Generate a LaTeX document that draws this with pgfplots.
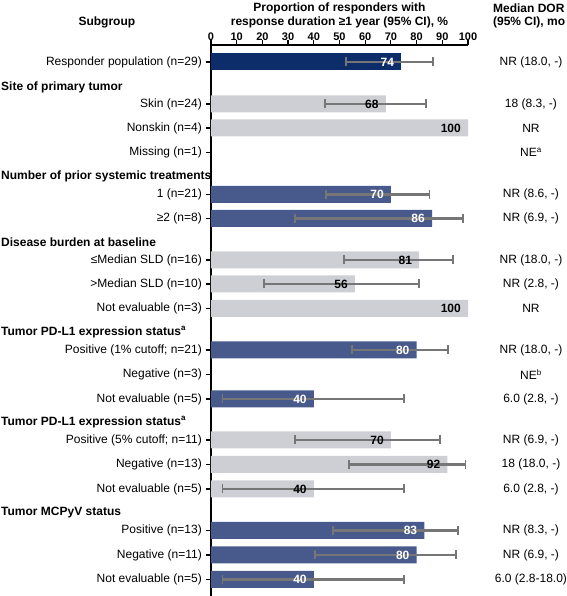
\documentclass[border=0pt]{standalone}
\usepackage{fontspec}
\setmainfont{Liberation Sans}
\usepackage{pgfplots}
\pgfplotsset{compat=1.18}
\usepackage{pgfplotstable}
\definecolor{navy}{RGB}{12,45,106}
\definecolor{slate}{RGB}{72,90,140}
\definecolor{lgrey}{RGB}{206,207,213}
\definecolor{ebgray}{RGB}{118,118,118}

\pgfplotstableread{
y v em ep
-62 74 21.5 12.5
}\navytab
\pgfplotstableread{
y v em ep
-194.5 70 25.4 15
-218.5 86 53.3 12
-350 80 25.1 12.3
-399 40 35.5 35
-530.5 83 35.4 13.2
-555 80 39.4 15.2
-579.5 40 35.5 35
}\bluetab
\pgfplotstableread{
y v em ep
-104 68 23.5 15.8
-260 81 29.2 13.2
-284 56 35.4 25
-440 70 37.3 19
-464.5 92 38.2 7
-489 40 35.5 35
}\greytab
\pgfplotstableread{
y v
-128 100
-308.5 100
}\greynoci

\pgfplotsset{
  myerr/.style={
    error bars/.cd, x dir=both, x explicit,
    error bar style={draw=ebgray, line width=2.1pt, solid},
    error mark=|,
    error mark options={draw=ebgray, line width=1.8pt, mark size=4.5pt, solid},
  },
  mylab/.style={nodes near coords, point meta=x,
    every node near coord/.append style={font=\bfseries\fontsize{12}{14}\selectfont, text=#1, anchor=east, xshift=-3pt}},
}

\begin{document}
\fontsize{12}{14}\selectfont
\begin{tikzpicture}
\begin{axis}[
 x=2.57pt, y=1pt,
 xmin=0, xmax=100, ymin=-596, ymax=-45,
 axis x line*=top, axis y line*=left,
 axis line style={line width=1.5pt},
 xtick={0,10,...,100},
 xticklabel style={font=\bfseries\fontsize{11}{13}\selectfont, yshift=-5pt},
 ytick={-62,-104,-128,-152.5,-194.5,-218.5,-260,-284,-308.5,-350,-374.5,-399,-440,-464.5,-489,-530.5,-555,-579.5},
 yticklabels={{Responder population (n=29)},{Skin (n=24)},{Nonskin (n=4)},{Missing (n=1)},{1 (n=21)},{≥2 (n=8)},{≤Median SLD (n=16)},{>Median SLD (n=10)},{Not evaluable (n=3)},{Positive (1\% cutoff; n=21)},{Negative (n=3)},{Not evaluable (n=5)},{Positive (5\% cutoff; n=11)},{Negative (n=13)},{Not evaluable (n=5)},{Positive (n=13)},{Negative (n=11)},{Not evaluable (n=5)}},
 yticklabel style={font=\fontsize{12}{14}\selectfont},
 tick style={line width=1.2pt, black},
 major tick length=5pt,
 tick align=outside,
 /pgf/number format/assume math mode=true,
 xbar, bar width=17, bar shift=0pt,
 clip=false,
 scaled x ticks=false,
]
\addplot[fill=lgrey, draw=none, mylab=black, myerr]
  table[x=v, y=y, x error minus=em, x error plus=ep]{\greytab};
\addplot[fill=lgrey, draw=none, mylab=black]
  table[x=v, y=y]{\greynoci};
\addplot[fill=slate, draw=none, mylab=white, myerr]
  table[x=v, y=y, x error minus=em, x error plus=ep]{\bluetab};
\addplot[fill=navy, draw=none, mylab=white, myerr]
  table[x=v, y=y, x error minus=em, x error plus=ep]{\navytab};

% headers
\node[font=\bfseries, inner sep=0] at (axis cs:50,-8) {Proportion of responders with};
\node[font=\bfseries, inner sep=0] at (axis cs:50,-22) {response duration ≥1 year (95\% CI), \%};
\node[font=\bfseries, inner sep=0] at (axis cs:-40.5,-22) {Subgroup};
\node[font=\bfseries, inner sep=0, anchor=west] at (axis cs:109.7,-8) {Median DOR};
\node[font=\bfseries, inner sep=0, anchor=west] at (axis cs:109.7,-22) {(95\% CI), mo};

\node[font=\bfseries, inner sep=0, anchor=west] at (axis cs:-81.7,-87) {Site of primary tumor};
\node[font=\bfseries, inner sep=0, anchor=west] at (axis cs:-81.7,-176.5) {Number of prior systemic treatments};
\node[font=\bfseries, inner sep=0, anchor=west] at (axis cs:-81.7,-242) {Disease burden at baseline};
\node[font=\bfseries, inner sep=0, anchor=west] at (axis cs:-81.7,-332) {Tumor PD-L1 expression status\textsuperscript{a}};
\node[font=\bfseries, inner sep=0, anchor=west] at (axis cs:-81.7,-422) {Tumor PD-L1 expression status\textsuperscript{a}};
\node[font=\bfseries, inner sep=0, anchor=west] at (axis cs:-81.7,-513) {Tumor MCPyV status};

% right column
\node[inner sep=0] at (axis cs:124.5,-62) {NR (18.0, -)};
\node[inner sep=0] at (axis cs:124.5,-104) {18 (8.3, -)};
\node[inner sep=0] at (axis cs:124.5,-128) {NR};
\node[inner sep=0] at (axis cs:124.5,-152.5) {NE\textsuperscript{a}};
\node[inner sep=0] at (axis cs:124.5,-194.5) {NR (8.6, -)};
\node[inner sep=0] at (axis cs:124.5,-218.5) {NR (6.9, -)};
\node[inner sep=0] at (axis cs:124.5,-260) {NR (18.0, -)};
\node[inner sep=0] at (axis cs:124.5,-284) {NR (2.8, -)};
\node[inner sep=0] at (axis cs:124.5,-308.5) {NR};
\node[inner sep=0] at (axis cs:124.5,-350) {NR (18.0, -)};
\node[inner sep=0] at (axis cs:124.5,-374.5) {NE\textsuperscript{b}};
\node[inner sep=0] at (axis cs:124.5,-399) {6.0 (2.8, -)};
\node[inner sep=0] at (axis cs:124.5,-440) {NR (6.9, -)};
\node[inner sep=0] at (axis cs:124.5,-464.5) {18 (18.0, -)};
\node[inner sep=0] at (axis cs:124.5,-489) {6.0 (2.8, -)};
\node[inner sep=0] at (axis cs:124.5,-530.5) {NR (8.3, -)};
\node[inner sep=0] at (axis cs:124.5,-555) {NR (6.9, -)};
\node[inner sep=0] at (axis cs:124.5,-579.5) {6.0 (2.8-18.0)};

\coordinate (bbTL) at (axis cs:-82.1,0);
\coordinate (bbBR) at (axis cs:138.5,-596);
\end{axis}
\pgfresetboundingbox
\useasboundingbox (bbTL) rectangle (bbBR);
\end{tikzpicture}
\end{document}
